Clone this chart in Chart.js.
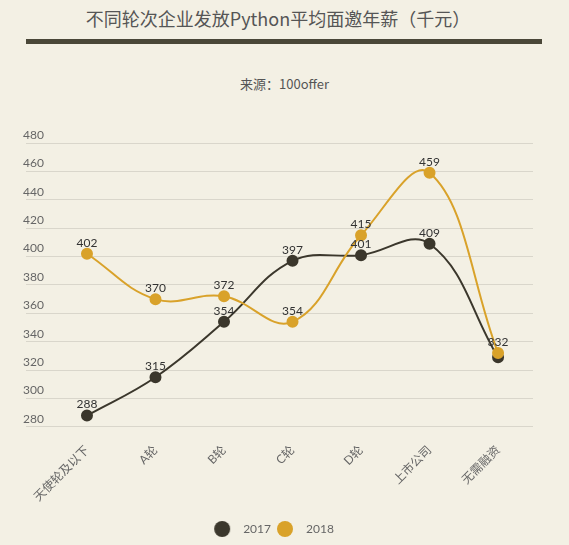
<!DOCTYPE html>
<html><head><meta charset="utf-8">
<script src="https://cdn.jsdelivr.net/npm/chart.js@4.4.1/dist/chart.umd.min.js"></script>
<style>
html,body{margin:0;padding:0;background:#f3f0e4;width:569px;height:545px;overflow:hidden;}
#title{position:absolute;left:0;width:556px;top:5px;text-align:center;font-family:"Noto Sans CJK SC","Noto Sans",sans-serif;font-size:18px;color:#555;}
#bar{position:absolute;left:26px;top:39px;width:516px;height:5px;background:#4a4738;}
#sub{position:absolute;left:0;width:569px;top:74px;text-align:center;font-family:"Noto Sans CJK SC","Noto Sans",sans-serif;font-size:13px;color:#555;}
#wrap{position:absolute;left:0;top:0;width:569px;height:545px;}
</style></head>
<body>
<div id="title">不同轮次企业发放Python平均面邀年薪（千元）</div>
<div id="bar"></div>
<div id="sub">来源：100offer</div>
<div id="wrap"><canvas id="c"></canvas></div>
<script>
const categories = ["天使轮及以下","A轮","B轮","C轮","D轮","上市公司","无需融资"];
const values2017 = [288, 315, 354, 397, 401, 409, 329];
const values2018 = [402, 370, 372, 354, 415, 459, 332];
const seriesNames = ["2017", "2018"];
const yTicks = [280, 300, 320, 340, 360, 380, 400, 420, 440, 460, 480];
const hiddenLabels2017 = [6];
const colors = ['#3b372c', '#d9a22a'];

const FONT = '"Lato","Noto Sans CJK SC",sans-serif';

function legendDot(color) {
  const cv = document.createElement('canvas');
  cv.width = 34; cv.height = 18;
  const g = cv.getContext('2d');
  g.fillStyle = color;
  g.beginPath(); g.arc(11, 9, 8, 0, Math.PI * 2); g.fill();
  return cv;
}
const dots = colors.map(legendDot);

const labelPlugin = {
  id: 'valueLabels',
  afterDatasetsDraw(chart) {
    const ctx = chart.ctx;
    ctx.save();
    ctx.font = '12px ' + FONT;
    ctx.fillStyle = '#333';
    ctx.textAlign = 'center';
    ctx.textBaseline = 'bottom';
    chart.data.datasets.forEach((ds, di) => {
      const meta = chart.getDatasetMeta(di);
      meta.data.forEach((pt, i) => {
        if (di === 0 && hiddenLabels2017.includes(i)) return;
        ctx.fillText(String(ds.data[i].y), pt.x, pt.y - 5);
      });
    });
    ctx.restore();
  }
};

new Chart(document.getElementById('c'), {
  type: 'line',
  data: {
    datasets: [
      {
        label: seriesNames[0],
        data: values2017.map((v, i) => ({x: i, y: v})),
        borderColor: colors[0], backgroundColor: colors[0],
        borderWidth: 2, pointRadius: 5, pointHoverRadius: 5,
        tension: 0.4, order: 1
      },
      {
        label: seriesNames[1],
        data: values2018.map((v, i) => ({x: i, y: v})),
        borderColor: colors[1], backgroundColor: colors[1],
        borderWidth: 2, pointRadius: 5, pointHoverRadius: 5,
        tension: 0.4, order: 0
      }
    ]
  },
  options: {
    responsive: true,
    maintainAspectRatio: false,
    animation: false,
    layout: {padding: {left: 26, right: 36, top: 143, bottom: 0}},
    scales: {
      x: {
        type: 'linear', min: -0.89, max: 6.51,
        afterBuildTicks: (s) => { s.ticks = categories.map((c, i) => ({value: i})); },
        grid: {display: false},
        border: {display: false},
        ticks: {
          minRotation: 45, maxRotation: 45, autoSkip: false,
          callback: (v) => categories[v],
          color: '#666', font: {family: FONT, size: 12}, padding: 8
        }
      },
      y: {
        min: 280, max: 480,
        afterBuildTicks: (s) => { s.ticks = yTicks.map(v => ({value: v})); },
        grid: {color: '#d9d6cb', lineWidth: 1, drawTicks: false},
        border: {display: false},
        ticks: {
          mirror: true, padding: -1, labelOffset: -8,
          color: '#666', font: {family: FONT, size: 12}
        }
      }
    },
    plugins: {
      legend: {
        position: 'bottom',
        labels: {
          usePointStyle: true, pointStyleWidth: 18, boxWidth: 18, boxHeight: 12,
          color: '#666', font: {family: FONT, size: 12}, padding: 11,
          sort: (a, b) => a.datasetIndex - b.datasetIndex,
          generateLabels: (chart) => {
            const items = Chart.defaults.plugins.legend.labels.generateLabels(chart);
            items.forEach((it, k) => {
              it.pointStyle = dots[it.datasetIndex];
              if (k < items.length - 1) it.text = it.text + '\u2002';
            });
            return items;
          }
        }
      },
      tooltip: {enabled: false}
    }
  },
  plugins: [labelPlugin]
});
</script>
</body></html>
